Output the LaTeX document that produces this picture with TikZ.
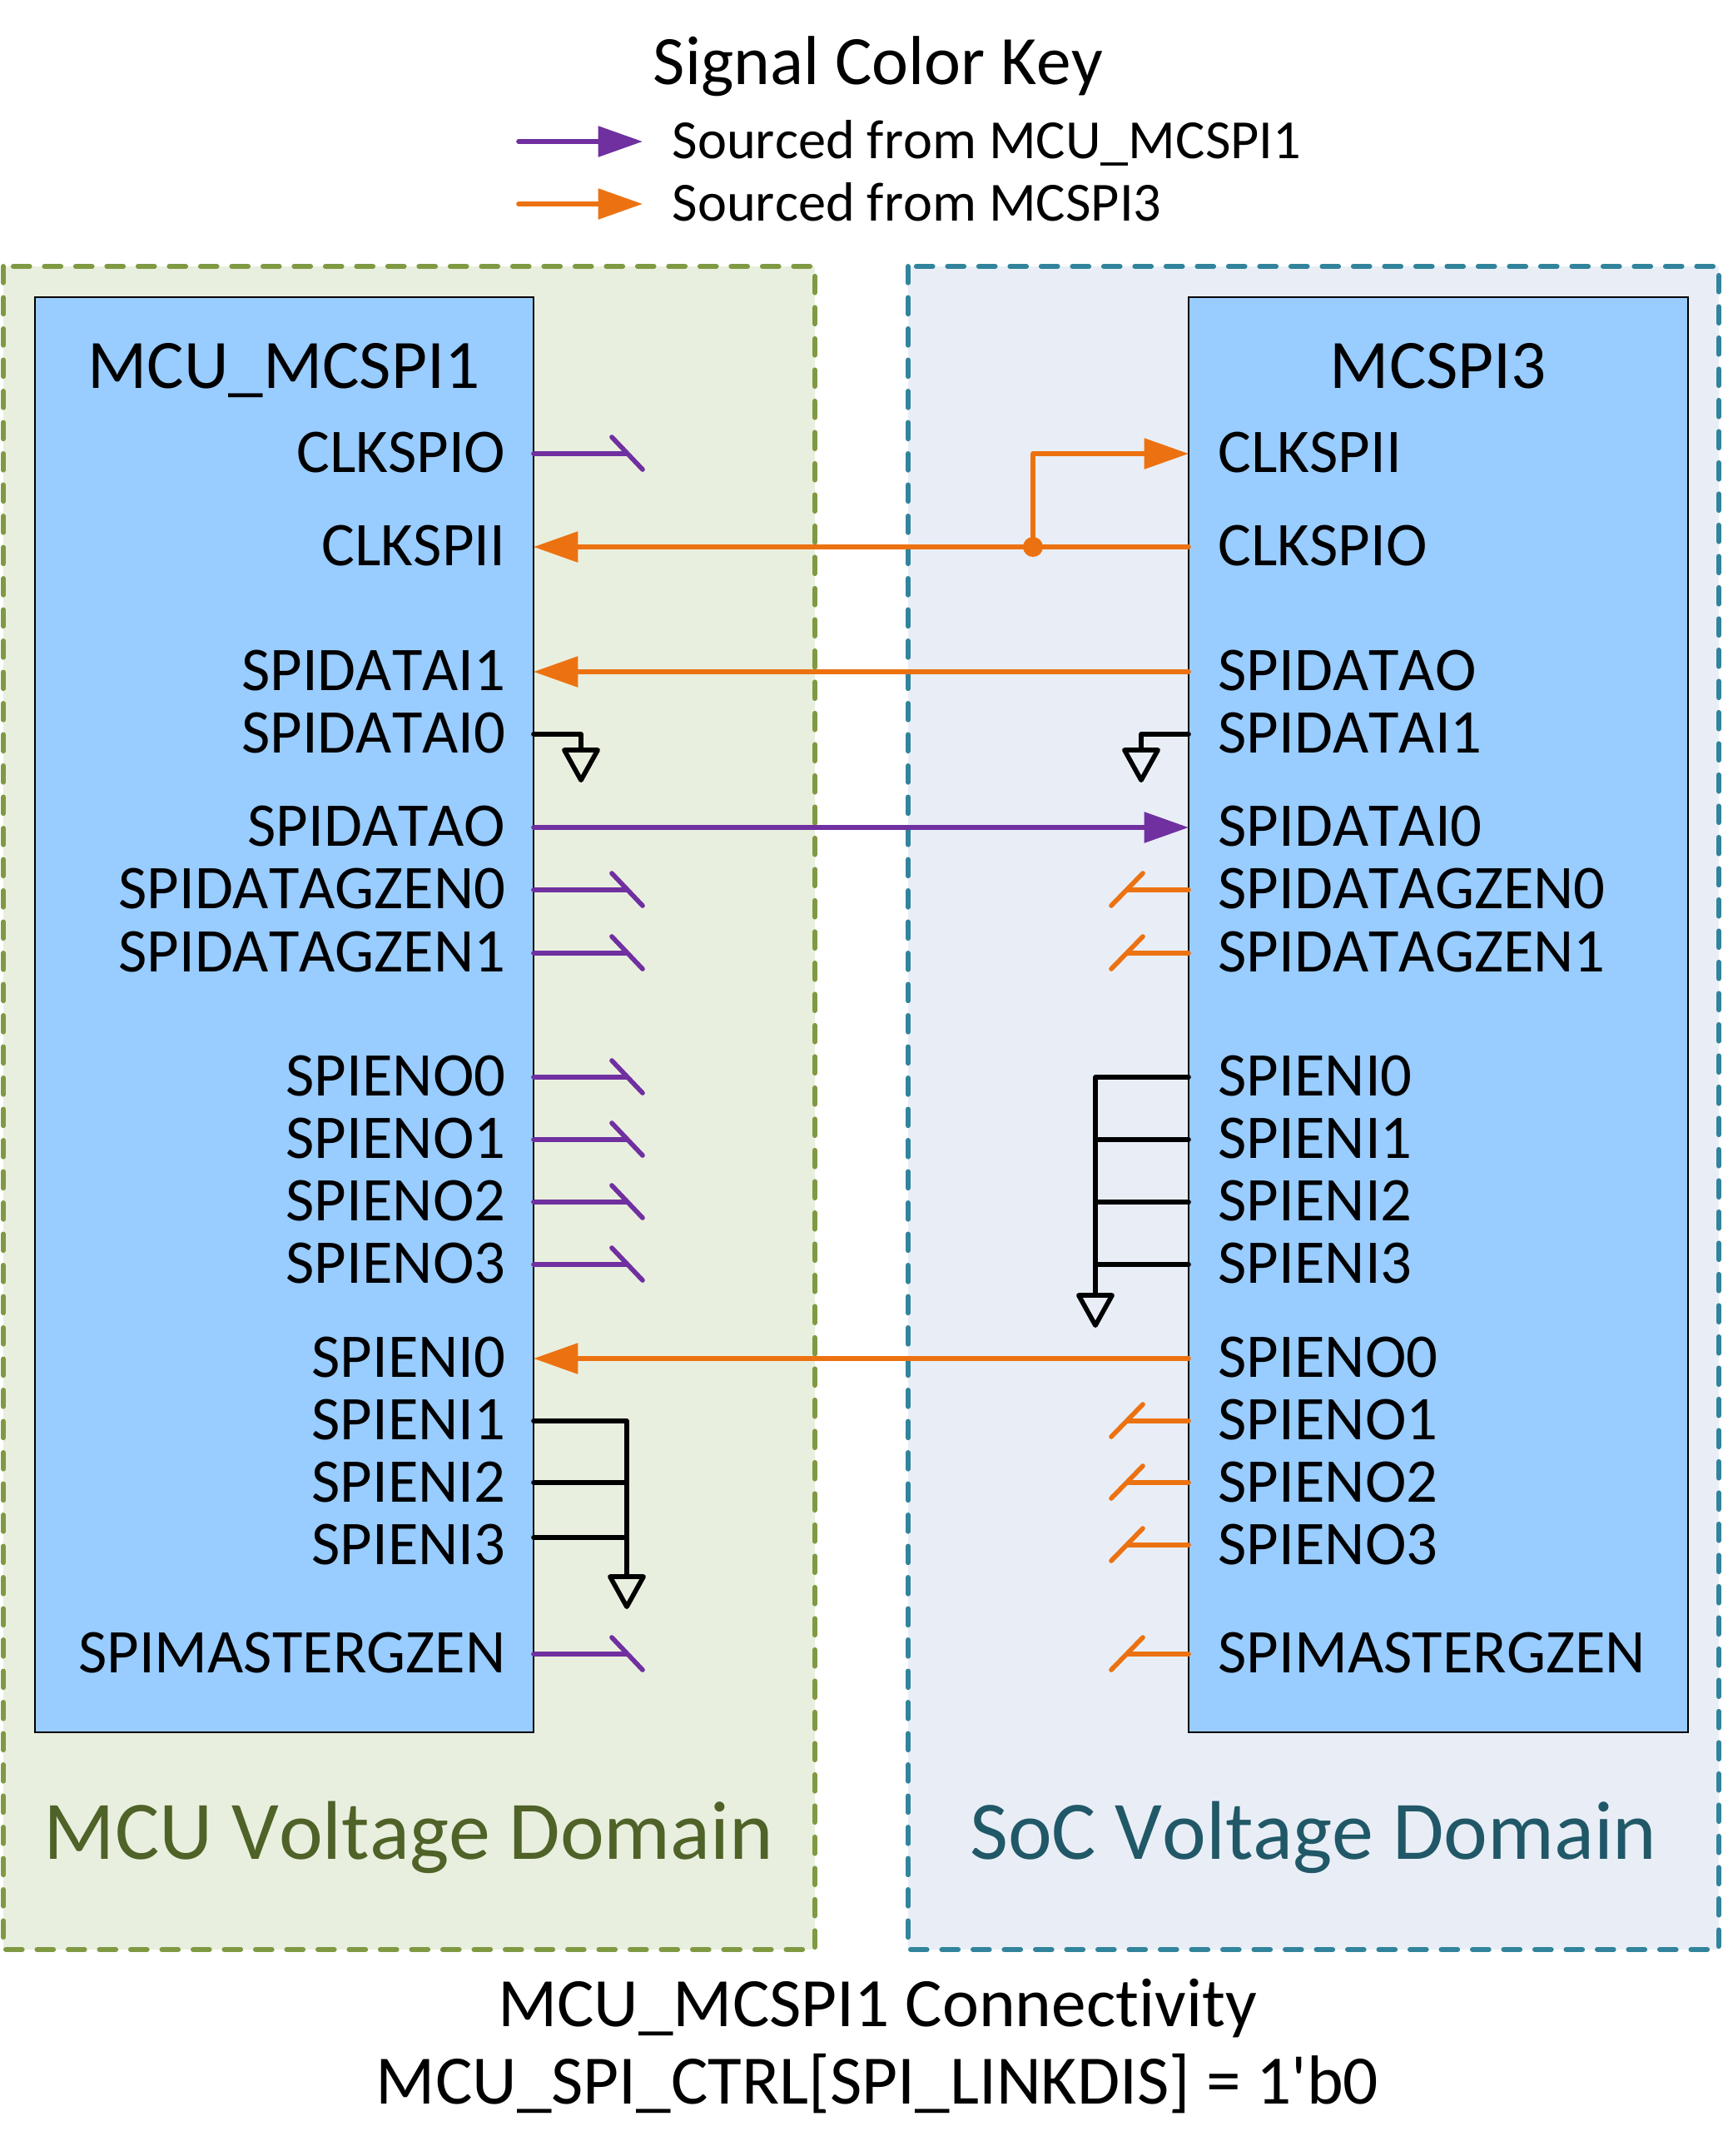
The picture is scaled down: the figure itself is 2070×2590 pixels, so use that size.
\documentclass[tikz,border=0pt]{standalone}
\usepackage{fontspec}
\setmainfont{Carlito}[Ligatures=NoCommon,Kerning=Off]
\newfontfamily\capfont{Carlito}[Ligatures=NoCommon,Kerning=Off]
\usetikzlibrary{arrows.meta}
\definecolor{sigpurple}{HTML}{7030A0}
\definecolor{sigorange}{HTML}{EC7211}
\definecolor{mcuedge}{HTML}{7F9A43}
\definecolor{mcufill}{HTML}{E9EFDE}
\definecolor{mcutext}{HTML}{4F6228}
\definecolor{socedge}{HTML}{31849B}
\definecolor{socfill}{HTML}{E9EEF6}
\definecolor{soctext}{HTML}{215868}
\definecolor{blockfill}{HTML}{99CCFF}
\tikzset{
  domainbox/.style={line width=1.8pt,dash pattern=on 5.9pt off 5.35pt,line cap=round},
  blockbox/.style={draw=black,line width=0.6pt,fill=blockfill},
  pinr/.style={anchor=base east,inner sep=0pt,yshift=-0.5pt,font=\fontsize{22.4}{27}\selectfont},
  pinl/.style={anchor=base west,inner sep=0pt,yshift=-0.5pt,font=\fontsize{22.4}{27}\selectfont},
  titletext/.style={anchor=base,inner sep=0pt,yshift=-0.4pt,font=\fontsize{25}{30}\selectfont},
  keytext/.style={anchor=base west,inner sep=0pt,xshift=-0.3pt,yshift=-0.3pt,font=\fontsize{19.9}{24}\selectfont},
  domtext/.style={anchor=base,inner sep=0pt,font=\fontsize{30}{36}\selectfont},
  wire/.style={line width=1.7pt,line cap=round,line join=round},
  purplewire/.style={wire,color=sigpurple},
  orangewire/.style={wire,color=sigorange},
  blackwire/.style={wire,color=black},
  sighead/.style={-{Triangle[length=16pt,width=10.8pt]}},
  gndhead/.style={-{Triangle[open,length=13.5pt,width=14.5pt,round]}},
}
\begin{document}
\begin{tikzpicture}[x=0.3pt,y=0.3pt,yscale=-1,xscale=1]
\useasboundingbox (0,0) rectangle (2070,2590);

%Domains
\draw [domainbox,draw=mcuedge,fill=mcufill] (4,320) rectangle (979,2342);
\draw [domainbox,draw=socedge,fill=socfill] (1091,320) rectangle (2065,2342);
%Blocks
\draw [blockbox] (42,357) rectangle (641,2081);
\draw [blockbox] (1428,357) rectangle (2028,2081);

%Pins on MCU_MCSPI1
\coordinate (lclko) at (641,545);
\coordinate (lclki) at (641,657);
\coordinate (ldi1) at (641,807);
\coordinate (ldi0) at (641,882);
\coordinate (ldo) at (641,994);
\coordinate (lgz0) at (641,1069);
\coordinate (lgz1) at (641,1145);
\coordinate (leno0) at (641,1294);
\coordinate (leno1) at (641,1369);
\coordinate (leno2) at (641,1444);
\coordinate (leno3) at (641,1519);
\coordinate (leni0) at (641,1632);
\coordinate (leni1) at (641,1707);
\coordinate (leni2) at (641,1781);
\coordinate (leni3) at (641,1847);
\coordinate (lmgz) at (641,1987);
%Pins on MCSPI3
\coordinate (rclki) at (1428,545);
\coordinate (rclko) at (1428,657);
\coordinate (rdo) at (1428,807);
\coordinate (rdi1) at (1428,882);
\coordinate (rdi0) at (1428,994);
\coordinate (rgz0) at (1428,1069);
\coordinate (rgz1) at (1428,1145);
\coordinate (reni0) at (1428,1294);
\coordinate (reni1) at (1428,1369);
\coordinate (reni2) at (1428,1444);
\coordinate (reni3) at (1428,1519);
\coordinate (reno0) at (1428,1632);
\coordinate (reno1) at (1428,1707);
\coordinate (reno2) at (1428,1781);
\coordinate (reno3) at (1428,1856);
\coordinate (rmgz) at (1428,1987);

%Signal key
\coordinate (keypa) at (623,170);
\coordinate (keypb) at (772,170);
\coordinate (keyoa) at (623,245);
\coordinate (keyob) at (772,245);
\draw [purplewire,sighead] (keypa) -- (keypb);
\draw [orangewire,sighead] (keyoa) -- (keyob);

%Connected signals
\coordinate (clkjoin) at (1241,657);
\coordinate (clkup) at (1241,545);
\draw [orangewire,sighead] (rclko) -- (lclki);
\draw [orangewire,sighead] (clkjoin) -- (clkup) -- (rclki);
\fill [sigorange] (clkjoin) circle (12);
\draw [orangewire,sighead] (rdo) -- (ldi1);
\draw [purplewire,sighead] (ldo) -- (rdi0);
\draw [orangewire,sighead] (reno0) -- (leni0);

%Unconnected outputs MCU_MCSPI1
\draw [purplewire] (lclko) -- +(111,0) +(94,-20) -- +(131,19);
\draw [purplewire] (lgz0) -- +(111,0) +(94,-20) -- +(131,19);
\draw [purplewire] (lgz1) -- +(111,0) +(94,-20) -- +(131,19);
\draw [purplewire] (leno0) -- +(111,0) +(94,-20) -- +(131,19);
\draw [purplewire] (leno1) -- +(111,0) +(94,-20) -- +(131,19);
\draw [purplewire] (leno2) -- +(111,0) +(94,-20) -- +(131,19);
\draw [purplewire] (leno3) -- +(111,0) +(94,-20) -- +(131,19);
\draw [purplewire] (lmgz) -- +(111,0) +(94,-20) -- +(131,19);
%Unconnected outputs MCSPI3
\draw [orangewire] (rgz0) -- +(-74,0) +(-55,-20) -- +(-93,19);
\draw [orangewire] (rgz1) -- +(-74,0) +(-55,-20) -- +(-93,19);
\draw [orangewire] (reno1) -- +(-74,0) +(-55,-20) -- +(-93,19);
\draw [orangewire] (reno2) -- +(-74,0) +(-55,-20) -- +(-93,19);
\draw [orangewire] (reno3) -- +(-74,0) +(-55,-20) -- +(-93,19);
\draw [orangewire] (rmgz) -- +(-74,0) +(-55,-20) -- +(-93,19);

%Tied low inputs
\coordinate (lgnd) at (698,882);
\coordinate (lgndtip) at (698,940);
\draw [blackwire,gndhead] (ldi0) -- (lgnd) -- (lgndtip);
\coordinate (rgnd) at (1371,882);
\coordinate (rgndtip) at (1371,940);
\draw [blackwire,gndhead] (rdi1) -- (rgnd) -- (rgndtip);
\coordinate (lbus) at (753,1707);
\coordinate (lbustip) at (753,1933);
\draw [blackwire,gndhead] (leni1) -- (lbus) -- (lbustip);
\draw [blackwire] (leni2) -- (lbus |- leni2);
\draw [blackwire] (leni3) -- (lbus |- leni3);
\coordinate (rbus) at (1316,1294);
\coordinate (rbustip) at (1316,1595);
\draw [blackwire,gndhead] (reni0) -- (rbus) -- (rbustip);
\draw [blackwire] (reni1) -- (rbus |- reni1);
\draw [blackwire] (reni2) -- (rbus |- reni2);
\draw [blackwire] (reni3) -- (rbus |- reni3);

% Text Node
\draw (1055,100) node (keytitle) [titletext] {Signal Color Key};
\draw (808,189) node (keyp) [keytext] {Sourced from MCU\_MCSPI1};
\draw (808,264) node (keyo) [keytext] {Sourced from MCSPI3};
\draw (341,465) node (mcuname) [titletext] {MCU\_MCSPI1};
\draw (1728,465) node (socname) [titletext] {MCSPI3};
% Text Node
\draw (608,566) node (tlclko) [pinr] {CLKSPIO};
\draw (608,678) node (tlclki) [pinr] {CLKSPII};
\draw (608,828) node (tldi1) [pinr] {SPIDATAI1};
\draw (608,903) node (tldi0) [pinr] {SPIDATAI0};
\draw (608,1015) node (tldo) [pinr] {SPIDATAO};
\draw (608,1090) node (tlgz0) [pinr] {SPIDATAGZEN0};
\draw (608,1166) node (tlgz1) [pinr] {SPIDATAGZEN1};
\draw (608,1315) node (tleno0) [pinr] {SPIENO0};
\draw (608,1390) node (tleno1) [pinr] {SPIENO1};
\draw (608,1465) node (tleno2) [pinr] {SPIENO2};
\draw (608,1540) node (tleno3) [pinr] {SPIENO3};
\draw (608,1653) node (tleni0) [pinr] {SPIENI0};
\draw (608,1728) node (tleni1) [pinr] {SPIENI1};
\draw (608,1803) node (tleni2) [pinr] {SPIENI2};
\draw (608,1878) node (tleni3) [pinr] {SPIENI3};
\draw (608,2008) node (tlmgz) [pinr] {SPIMASTERGZEN};
% Text Node
\draw (1463,566) node (trclki) [pinl] {CLKSPII};
\draw (1463,678) node (trclko) [pinl] {CLKSPIO};
\draw (1463,828) node (trdo) [pinl] {SPIDATAO};
\draw (1463,903) node (trdi1) [pinl] {SPIDATAI1};
\draw (1463,1015) node (trdi0) [pinl] {SPIDATAI0};
\draw (1463,1090) node (trgz0) [pinl] {SPIDATAGZEN0};
\draw (1463,1166) node (trgz1) [pinl] {SPIDATAGZEN1};
\draw (1463,1315) node (treni0) [pinl] {SPIENI0};
\draw (1463,1390) node (treni1) [pinl] {SPIENI1};
\draw (1463,1465) node (treni2) [pinl] {SPIENI2};
\draw (1463,1540) node (treni3) [pinl] {SPIENI3};
\draw (1463,1653) node (treno0) [pinl] {SPIENO0};
\draw (1463,1728) node (treno1) [pinl] {SPIENO1};
\draw (1463,1803) node (treno2) [pinl] {SPIENO2};
\draw (1463,1878) node (treno3) [pinl] {SPIENO3};
\draw (1463,2008) node (trmgz) [pinl] {SPIMASTERGZEN};
% Text Node
\draw (491,2233) node (mcudom) [domtext,text=mcutext] {MCU Voltage Domain};
\draw (1578,2233) node (socdom) [domtext,text=soctext] {SoC Voltage Domain};
\draw (1054,2433) node (capa) [titletext] {\capfont MCU\_MCSPI1 Connectivity};
\draw (1054,2526) node (capb) [titletext] {\capfont MCU\_SPI\_CTRL[SPI\_LINKDIS] = 1'b0};
\end{tikzpicture}
\end{document}
